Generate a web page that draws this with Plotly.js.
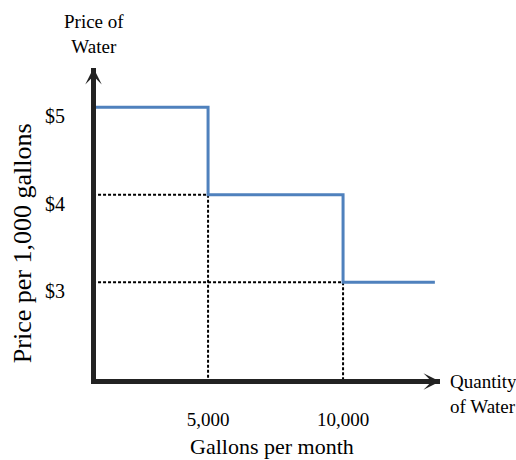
<!DOCTYPE html>
<html>
<head>
<meta charset="utf-8">
<script src="https://cdn.plot.ly/plotly-3.0.1.min.js"></script>
<style>html,body{margin:0;padding:0;background:#fff;}#chart{width:516px;height:460px;}</style>
</head>
<body>
<div id="chart"></div>
<script>
// Tiered water pricing (price per 1,000 gallons by monthly usage)
const tierStart = [0, 5000, 10000];
const tierEnd = [5000, 10000, 13400];
const tierPrice = [5, 4, 3];
const xTickVals = [5000, 10000];
const xTickText = ['5,000', '10,000'];
const yTickVals = [3, 4, 5];
const yTickText = ['$3', '$4', '$5'];

const FONT = 'Liberation Serif, Times New Roman, serif';
const BLUE = '#4f81bd';
const AX = '#222222';

const traces = [];
// dashed guide lines from each price break to both axes
for (let i = 1; i < tierStart.length; i++) {
  const b = tierStart[i], p = tierPrice[i];
  traces.push({
    type: 'scatter', mode: 'lines',
    x: [0, b, b], y: [p, p, 0],
    line: {color: '#000', width: 2, dash: '3px,2px'},
    hoverinfo: 'skip', showlegend: false
  });
}
// step price schedule
const sx = tierStart.concat([tierEnd[tierEnd.length - 1]]);
const sy = tierPrice.concat([tierPrice[tierPrice.length - 1]]);
traces.push({
  type: 'scatter', mode: 'lines',
  x: sx, y: sy,
  line: {color: BLUE, width: 3, shape: 'hv'},
  showlegend: false
});

const xr = [850, 13590];
const yr = [1.893, 5.448];

const layout = {
  width: 516, height: 460,
  margin: {l: 96, r: 76, t: 68, b: 81},
  paper_bgcolor: '#fff', plot_bgcolor: '#fff',
  font: {family: FONT, color: '#000', size: 18},
  showlegend: false,
  xaxis: {
    range: xr, showgrid: false, zeroline: false,
    showline: true, linewidth: 5, linecolor: AX,
    tickvals: xTickVals, ticktext: xTickText, ticks: '',
    ticklabelstandoff: 19,
    tickfont: {family: FONT, size: 19, color: '#000'}
  },
  yaxis: {
    range: yr, showgrid: false, zeroline: false,
    showline: true, linewidth: 5, linecolor: AX,
    tickvals: yTickVals, ticktext: yTickText, ticks: '',
    ticklabelstandoff: 22, ticklabelshift: 9,
    tickfont: {family: FONT, size: 20, color: '#000'}
  },
  annotations: [
    {xref: 'x', yref: 'y', x: xr[0], y: yr[1], text: '', showarrow: true,
     ax: 0, ay: 16, arrowhead: 3, arrowsize: 0.55, arrowwidth: 5, arrowcolor: AX, xshift: -2.5},
    {xref: 'x', yref: 'y', x: xr[1], y: yr[0], text: '', showarrow: true,
     ax: -16, ay: 0, arrowhead: 3, arrowsize: 0.55, arrowwidth: 5, arrowcolor: AX, yshift: -2.5},
    {xref: 'paper', yref: 'paper', x: -0.006, y: 1.108, text: 'Price of<br>Water',
     showarrow: false, xanchor: 'center', yanchor: 'middle', align: 'center',
     font: {family: FONT, size: 19, color: '#000'}},
    {xref: 'paper', yref: 'paper', x: 1.023, y: -0.047, text: 'Quantity<br>of Water',
     showarrow: false, xanchor: 'left', yanchor: 'middle', align: 'left',
     font: {family: FONT, size: 19, color: '#000'}},
    {xref: 'paper', yref: 'paper', x: 0.5116, y: -0.2186, text: 'Gallons per month',
     showarrow: false, xanchor: 'center', yanchor: 'middle',
     font: {family: FONT, size: 22, color: '#000'}},
    {xref: 'paper', yref: 'paper', x: -0.215, y: 0.437, text: 'Price per 1,000 gallons',
     showarrow: false, xanchor: 'center', yanchor: 'middle', textangle: -90,
     font: {family: FONT, size: 26, color: '#000'}}
  ]
};

Plotly.newPlot('chart', traces, layout, {displayModeBar: false, staticPlot: true});
</script>
</body>
</html>
